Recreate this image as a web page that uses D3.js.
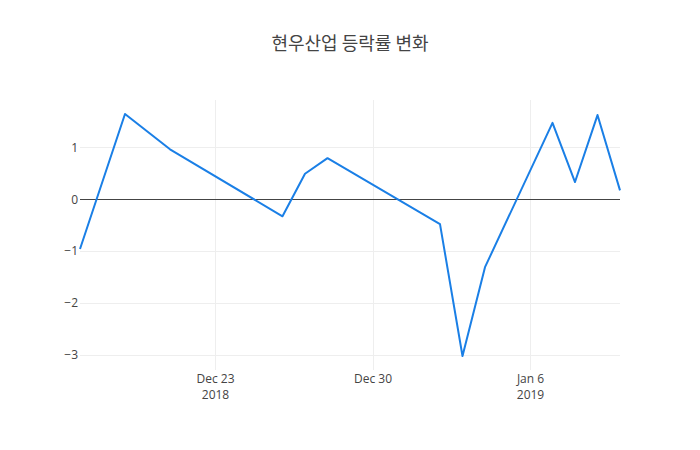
<!DOCTYPE html>
<html>
<head>
<meta charset="utf-8">
<script src="https://cdn.jsdelivr.net/npm/d3@7"></script>
<style>
  body { margin: 0; background: #fff; }
  text { font-family: "Open Sans", "Noto Sans", sans-serif; fill: #444; }
  .title { font-family: "Noto Sans CJK KR", "Open Sans", sans-serif; }
</style>
</head>
<body>
<script>
// trading days and daily change rate (%)
var dates = ["2018-12-17", "2018-12-19", "2018-12-21", "2018-12-26", "2018-12-27", "2018-12-28",
             "2019-01-02", "2019-01-03", "2019-01-04", "2019-01-07", "2019-01-08", "2019-01-09", "2019-01-10"];
var rates = [-0.96, 1.64, 0.96, -0.33, 0.49, 0.79, -0.48, -3.02, -1.31, 1.47, 0.33, 1.62, 0.17];

// axis ticks
var xTickDates = ["2018-12-23", "2018-12-30", "2019-01-06"];
var xTickDays = ["Dec 23", "Dec 30", "Jan 6"];
var xTickYears = ["2018", "", "2019"];
var yTicks = [-3, -2, -1, 0, 1];

var titleText = "현우산업 등락률 변화";

var totalWidth = 700;
var totalHeight = 450;
var margin = {"left": 80, "right": 80, "top": 100, "bottom": 80};

var parse = d3.utcParse("%Y-%m-%d");
var data = dates.map(function(d, i) {
  return {"date": parse(d), "rate": rates[i]};
});

var svg = d3.select("body")
            .append("svg")
            .attr("width", totalWidth)
            .attr("height", totalHeight);

var xScale = d3.scaleUtc()
               .domain(d3.extent(data, function(d) { return d.date; }))
               .range([margin.left, totalWidth - margin.right]);

// plotly-like autorange padding
var yMin = d3.min(rates), yMax = d3.max(rates);
var pad = (yMax - yMin) * 0.058;
var yScale = d3.scaleLinear()
               .domain([yMin - pad, yMax + pad])
               .range([totalHeight - margin.bottom, margin.top]);

// gridlines
svg.append("g")
   .selectAll("line")
   .data(xTickDates)
   .enter()
   .append("line")
   .attr("x1", function(d) { return Math.round(xScale(parse(d))) + 0.5; })
   .attr("x2", function(d) { return Math.round(xScale(parse(d))) + 0.5; })
   .attr("y1", margin.top)
   .attr("y2", totalHeight - margin.bottom)
   .attr("stroke", "#eee")
   .attr("stroke-width", 1);

svg.append("g")
   .selectAll("line")
   .data(yTicks.filter(function(d) { return d !== 0; }))
   .enter()
   .append("line")
   .attr("x1", margin.left)
   .attr("x2", totalWidth - margin.right)
   .attr("y1", function(d) { return Math.round(yScale(d)) + 0.5; })
   .attr("y2", function(d) { return Math.round(yScale(d)) + 0.5; })
   .attr("stroke", "#eee")
   .attr("stroke-width", 1);

// zero line
svg.append("line")
   .attr("x1", margin.left)
   .attr("x2", totalWidth - margin.right)
   .attr("y1", Math.round(yScale(0)) + 0.5)
   .attr("y2", Math.round(yScale(0)) + 0.5)
   .attr("stroke", "#444")
   .attr("stroke-width", 1);

// y axis labels
var yAxis = d3.axisLeft(yScale)
              .tickValues(yTicks)
              .tickSize(0)
              .tickPadding(0)
              .tickFormat(function(d) { return d < 0 ? "\u2212" + Math.abs(d) : d; });

var gy = svg.append("g")
            .attr("transform", "translate(" + (margin.left - 2) + ",0)")
            .call(yAxis);
gy.select(".domain").remove();
gy.selectAll("text")
  .attr("font-size", 12)
  .attr("fill", "#444")
  .style("font-family", "'Open Sans', sans-serif");

// x axis labels (day on first line, year below)
var xAxis = d3.axisBottom(xScale)
              .tickValues(xTickDates.map(parse))
              .tickSize(0)
              .tickFormat("");

var gx = svg.append("g")
            .attr("transform", "translate(0," + (totalHeight - margin.bottom) + ")")
            .call(xAxis);
gx.select(".domain").remove();

gx.selectAll(".tick")
  .each(function(d, i) {
    var tick = d3.select(this);
    tick.append("text")
        .attr("x", 0)
        .attr("y", 13)
        .attr("text-anchor", "middle")
        .attr("font-size", 12)
        .attr("fill", "#444")
        .text(xTickDays[i]);
    if (xTickYears[i] !== "") {
      tick.append("text")
          .attr("x", 0)
          .attr("y", 29)
          .attr("text-anchor", "middle")
          .attr("font-size", 12)
          .attr("fill", "#444")
          .text(xTickYears[i]);
    }
  });

// line
var line = d3.line()
             .x(function(d) { return xScale(d.date); })
             .y(function(d) { return yScale(d.rate); });

svg.append("path")
   .datum(data)
   .attr("d", line)
   .attr("fill", "none")
   .attr("stroke", "#1a7fe6")
   .attr("stroke-width", 2)
   .attr("stroke-linejoin", "round");

// title
svg.append("text")
   .attr("class", "title")
   .attr("x", totalWidth / 2)
   .attr("y", 50)
   .attr("text-anchor", "middle")
   .attr("font-size", 18)
   .text(titleText);
</script>
</body>
</html>
